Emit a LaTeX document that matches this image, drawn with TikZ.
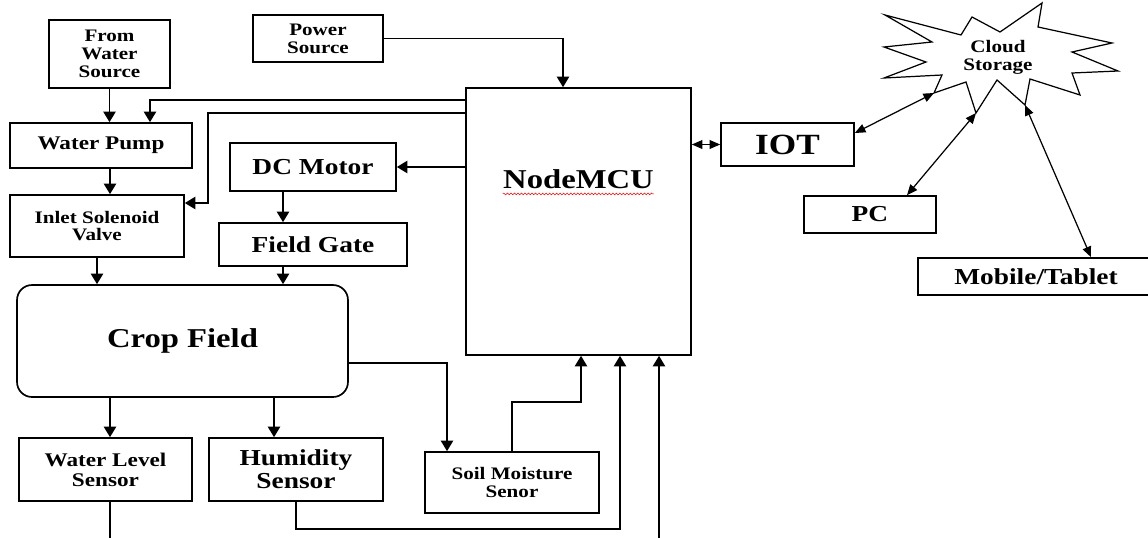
\documentclass[tikz,border=0pt]{standalone}
\usepackage{fontspec}
\setmainfont{Liberation Serif}[FakeStretch=1.2]
\usepackage{tikz}
\usetikzlibrary{arrows.meta,positioning,calc,decorations.pathmorphing}
\tikzset{
  irbox/.style={draw,line width=0.95pt,align=center,inner sep=0pt,fill=white},
  irsmall/.style={font=\fontsize{10}{10.2}\selectfont\bfseries},
  irmid/.style={font=\fontsize{11}{11.5}\selectfont\bfseries},
  irbig/.style={font=\fontsize{13}{13}\selectfont\bfseries},
  irhuge/.style={font=\fontsize{15.5}{16}\selectfont\bfseries},
  irarrow/.style={-{Triangle[length=6pt,width=7pt]},line width=0.85pt},
  irline/.style={line width=0.85pt},
  irdouble/.style={{Triangle[length=6pt,width=5pt]}-{Triangle[length=6pt,width=5pt]},line width=0.7pt},
  irspell/.style={red,line width=0.3pt,decorate,decoration={snake,amplitude=0.5pt,segment length=2pt}}
}

\begin{document}
\begin{tikzpicture}[x=0.02cm,y=-0.02cm]
  \useasboundingbox (0,0) rectangle (1148,537);

  \node[irbox,irsmall,minimum width=2.42cm,minimum height=1.36cm] (src) at (109.5,54) {From\\Water\\Source};
  \node[irbox,irsmall,minimum width=2.6cm,minimum height=0.94cm] (power) at (318,38.5) {Power\\Source};
  \node[irbox,irmid,minimum width=3.64cm,minimum height=0.9cm] (pump) at (101,145.5) {Water Pump};
  \node[irbox,irsmall,minimum width=3.48cm,minimum height=1.24cm] (valve) at (97,226) {Inlet Solenoid\\Valve};
  \node[irbox,irbig,minimum width=3.32cm,minimum height=0.96cm] (motor) at (313,167) {DC Motor};
  \node[irbox,irbig,minimum width=3.76cm,minimum height=0.86cm] (gate) at (313,244.5) {Field Gate};
  \node[irbox,minimum width=4.5cm,minimum height=5.34cm] (mcu) at (578.5,221.5) {};
  \node[irhuge,inner sep=0pt] (mcutext) at (578.5,179) {NodeMCU};
  \draw[irspell] ([yshift=-3.2pt]mcutext.base west) -- ([yshift=-3.2pt]mcutext.base east);
  \node[irbox,irhuge,rounded corners=0.3cm,minimum width=6.62cm,minimum height=2.24cm] (crop) at (182.5,341) {Crop Field};
  \node[irbox,irmid,minimum width=3.46cm,minimum height=1.26cm] (level) at (105.5,469.5) {Water Level\\Sensor};
  \node[irbox,irbig,minimum width=3.48cm,minimum height=1.26cm] (humid) at (296,469.5) {Humidity\\Sensor};
  \node[irbox,irsmall,minimum width=3.48cm,minimum height=1.22cm] (soil) at (512,482.5) {Soil Moisture\\Senor};

  \node[irbox,font=\fontsize{16.7}{17}\selectfont\bfseries,minimum width=2.66cm,minimum height=0.86cm] (iot) at (787.5,144.5) {IOT};
  \node[irbox,irbig,minimum width=2.64cm,minimum height=0.74cm] (pc) at (870,214.5) {PC};
  \node[irbox,irbig,minimum width=4.72cm,minimum height=0.74cm] (mobile) at (1036,276.5) {Mobile/Tablet};

  \coordinate (cl1) at (885,15);
  \coordinate (cl2) at (961,35);
  \coordinate (cl3) at (972,17);
  \coordinate (cl4) at (1000,32);
  \coordinate (cl5) at (1042,3);
  \coordinate (cl6) at (1038,27);
  \coordinate (cl7) at (1112,43);
  \coordinate (cl8) at (1072,52);
  \coordinate (cl9) at (1118,71);
  \coordinate (cl10) at (1072,73);
  \coordinate (cl11) at (1080,95);
  \coordinate (cl12) at (1030,79);
  \coordinate (cloudmob) at (1025,105);
  \coordinate (cl14) at (997,80);
  \coordinate (cloudpc) at (976,113);
  \coordinate (cl16) at (966,82);
  \coordinate (cloudiot) at (934,93);
  \coordinate (cl18) at (942,75);
  \coordinate (cl19) at (884,78);
  \coordinate (cl20) at (926,62);
  \coordinate (cl21) at (884,47);
  \coordinate (cl22) at (932,42);
  \draw[line width=0.7pt] (cl1) -- (cl2) -- (cl3) -- (cl4) -- (cl5) -- (cl6) -- (cl7) -- (cl8) -- (cl9) -- (cl10)
    -- (cl11) -- (cl12) -- (cloudmob) -- (cl14) -- (cloudpc) -- (cl16) -- (cloudiot) -- (cl18) -- (cl19)
    -- (cl20) -- (cl21) -- (cl22) -- cycle;
  \node[irsmall,align=center] (cloud) at (998,57) {Cloud\\Storage};

  \draw[irarrow] (src.south) -- (src.south |- pump.north);
  \draw[irarrow] (power.east) -| ([xshift=-0.31cm]mcu.north);
  \draw[irarrow] ([yshift=-0.26cm]mcu.north west) -| ([xshift=0.98cm]pump.north);
  \draw[irarrow] ([yshift=-0.52cm]mcu.north west) -| ([xshift=0.46cm,yshift=0.46cm]valve.east) -- ([yshift=0.46cm]valve.east);
  \draw[irarrow] (mcu.west |- motor.east) -- (motor.east);
  \draw[irarrow] ([xshift=0.18cm]pump.south) -- ([xshift=0.18cm]pump.south |- valve.north);
  \draw[irarrow] ([xshift=-0.6cm]motor.south) -- ([xshift=-0.6cm]motor.south |- gate.north);
  \draw[irarrow] (valve.south) -- (valve.south |- crop.north);
  \draw[irarrow] ([xshift=-0.6cm]gate.south) -- ([xshift=-0.6cm]gate.south |- crop.north);
  \draw[irarrow] ([xshift=0.09cm]level.north |- crop.south) -- ([xshift=0.09cm]level.north);
  \draw[irarrow] ([xshift=-0.44cm]humid.north |- crop.south) -- ([xshift=-0.44cm]humid.north);
  \draw[irarrow] ([yshift=-0.44cm]crop.east) -| ([xshift=-1.3cm]soil.north);
  \draw[irarrow] (soil.north) -- ++(0,-49) -| ([xshift=0.05cm]mcu.south);
  \draw[irarrow] (humid.south) -- ++(0,27) -| ([xshift=0.83cm]mcu.south);
  \draw[irline] ([xshift=0.09cm]level.south) -- ++(0,45);
  \coordinate (extin) at (659,545);
  \draw[irarrow] (extin) -- (extin |- mcu.south);

  \draw[irdouble] (mcu.east |- iot.west) -- (iot.west);
  \draw[irdouble] ([yshift=0.23cm]iot.east) -- (cloudiot);
  \draw[irdouble] ([xshift=0.74cm]pc.north) -- (cloudpc);
  \draw[irdouble] ([xshift=1.1cm]mobile.north) -- (cloudmob);
\end{tikzpicture}
\end{document}
